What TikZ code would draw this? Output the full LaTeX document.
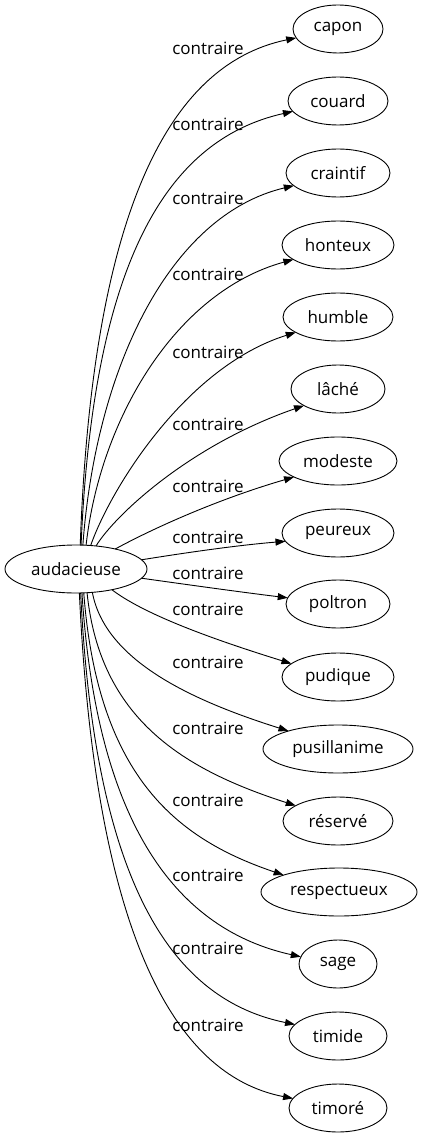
\documentclass[tikz,border=0pt]{standalone}
\usepackage{fontspec}
\setmainfont{Open Sans}
\usetikzlibrary{arrows.meta,shapes.geometric}
\begin{document}
\begin{tikzpicture}[x=1pt,y=-1pt,
  every node/.style={font=\fontsize{17}{20}\selectfont},
  tgt/.style={draw, ellipse, line width=0.9pt, inner sep=0pt, outer sep=0pt, minimum height=48pt},
  lbl/.style={inner sep=0pt},
  edge/.style={line width=0.9pt, -{Triangle[length=10pt,width=7pt]}}]
\useasboundingbox (0,0) rectangle (420,1139);
\node[tgt, minimum width=142pt] (src) at (76,569) {audacieuse};
\node[tgt, minimum width=90pt] (capon) at (338,29) {capon};
\node[tgt, minimum width=100pt] (couard) at (338,101) {couard};
\node[tgt, minimum width=104pt] (craintif) at (338,173) {craintif};
\node[tgt, minimum width=112pt] (honteux) at (338,245) {honteux};
\node[tgt, minimum width=110pt] (humble) at (338,317) {humble};
\node[tgt, minimum width=94pt] (lache) at (338,389) {lâché};
\node[tgt, minimum width=118pt] (modeste) at (338,461) {modeste};
\node[tgt, minimum width=112pt] (peureux) at (338,533) {peureux};
\node[tgt, minimum width=104pt] (poltron) at (338,604) {poltron};
\node[tgt, minimum width=112pt] (pudique) at (338,677) {pudique};
\node[tgt, minimum width=150pt] (pusillanime) at (338,749) {pusillanime};
\node[tgt, minimum width=110pt] (reserve) at (338,821) {réservé};
\node[tgt, minimum width=156pt] (respectueux) at (339,892) {respectueux};
\node[tgt, minimum width=78pt] (sage) at (338,964) {sage};
\node[tgt, minimum width=98pt] (timide) at (338,1036) {timide};
\node[tgt, minimum width=98pt] (timore) at (338,1108) {timoré};
% labels
\node[lbl] (l1) at (208,48) {contraire};
\node[lbl] (l2) at (208,124) {contraire};
\node[lbl] (l3) at (208,198) {contraire};
\node[lbl] (l4) at (208,274) {contraire};
\node[lbl] (l5) at (208,352) {contraire};
\node[lbl] (l6) at (208,424) {contraire};
\node[lbl] (l7) at (208,486) {contraire};
\node[lbl] (l8) at (208,537) {contraire};
\node[lbl] (l9) at (208,573) {contraire};
\node[lbl] (l10) at (208,609) {contraire};
\node[lbl] (l11) at (208,662) {contraire};
\node[lbl] (l12) at (208,728) {contraire};
\node[lbl] (l13) at (208,800) {contraire};
\node[lbl] (l14) at (208,875) {contraire};
\node[lbl] (l15) at (208,948) {contraire};
\node[lbl] (l16) at (208,1025) {contraire};
% edges
\draw[edge] (src.80) .. controls (92,220) and (165,65) .. (capon.192);
\draw[edge] (src.78) .. controls (93,265) and (165,140) .. (couard.193);
\draw[edge] (src.74) .. controls (96,367) and (170,215) .. (craintif.196);
\draw[edge] (src.67) .. controls (100,420) and (175,292) .. (honteux.198);
\draw[edge] (src.58) .. controls (110,490) and (185,367) .. (humble.200);
\draw[edge] (src.49) .. controls (115,515) and (190,445) .. (lache.206);
\draw[edge] (src.27) .. controls (150,530) and (215,500) .. (modeste.200);
\draw[edge] (src.8) .. controls (190,552) and (240,545) .. (peureux.189);
\draw[edge] (src.-8) .. controls (190,585) and (240,592) .. (poltron.173);
\draw[edge] (src.-30) .. controls (145,615) and (215,640) .. (pudique.164);
\draw[edge] (src.-55) .. controls (105,660) and (190,700) .. (pusillanime.160);
\draw[edge] (src.-65) .. controls (100,720) and (185,770) .. (reserve.160);
\draw[edge] (src.-72) .. controls (98,780) and (180,840) .. (respectueux.163);
\draw[edge] (src.-76) .. controls (97,830) and (180,930) .. (sage.169);
\draw[edge] (src.-79) .. controls (95,890) and (175,1000) .. (timide.165);
\draw[edge] (src.-82) .. controls (95,930) and (172,1075) .. (timore.168);
\end{tikzpicture}
\end{document}
